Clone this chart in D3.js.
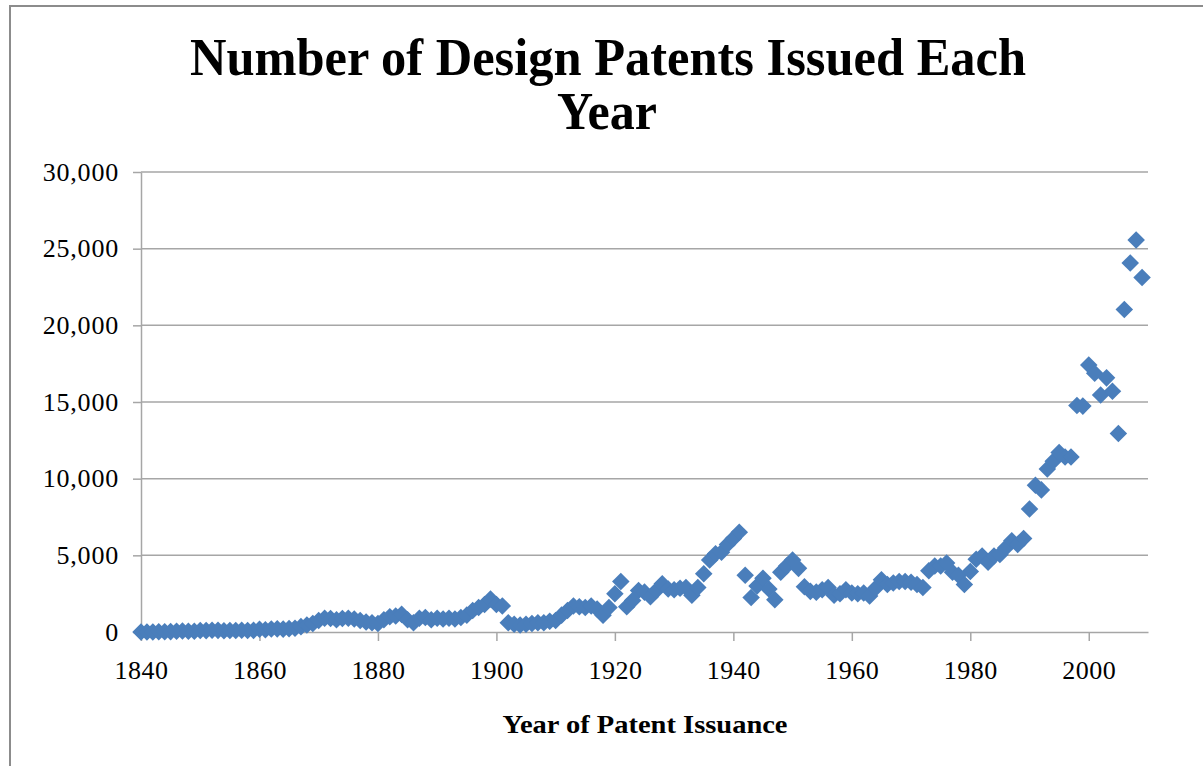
<!DOCTYPE html>
<html>
<head>
<meta charset="utf-8">
<script src="https://cdn.jsdelivr.net/npm/d3@7"></script>
<style>
  html, body { margin: 0; padding: 0; background: #fff; }
  svg { display: block; }
</style>
</head>
<body>
<svg id="chart" width="1203" height="766"></svg>
<script>
// ---- data ----
const years = d3.range(1840, 2010);
const patents = [
  0, 0, 0, 14, 12, 25, 50, 60, 46, 49,                 // 1840-1849
  91, 90, 109, 107, 84, 93, 103, 112, 102, 107,        // 1850-1859
  183, 142, 195, 204, 188, 220, 250, 350, 450, 550,    // 1860-1869
  750, 900, 880, 800, 880, 900, 850, 750, 650, 600,    // 1870-1879
  550, 800, 1000, 1050, 1150, 800, 600, 900, 950, 800, // 1880-1889
  900, 850, 900, 850, 950, 1100, 1400, 1600, 1800, 2150, // 1890-1899
  1800, 1700, 600, 500, 450, 500, 550, 600, 600, 700,  // 1900-1909
  750, 1100, 1400, 1700, 1650, 1600, 1700, 1500, 1100, 1600, // 1910-1919
  2500, 3300, 1650, 2050, 2700, 2600, 2300, 2700, 3150, 2800, // 1920-1929
  2750, 2850, 2900, 2400, 2900, 3800, 4700, 5100, 5200, 5700, // 1930-1939
  6100, 6500, 3700, 2250, 3000, 3500, 2800, 2100, 3900, 4300, // 1940-1949
  4700, 4150, 2950, 2650, 2600, 2750, 2900, 2400, 2500, 2750, // 1950-1959
  2550, 2500, 2550, 2350, 2850, 3400, 3100, 3200, 3300, 3300, // 1960-1969
  3250, 3100, 2900, 4000, 4300, 4300, 4500, 3900, 3700, 3100, // 1970-1979
  3950, 4750, 4950, 4550, 4950, 5050, 5500, 5950, 5700, 6100, // 1980-1989
  8024, 9569, 9269, 10630, 11138, 11712, 11410, 11414, 14766, 14732, // 1990-1999
  17413, 16871, 15451, 16574, 15695, 12951, 21034, 24063, 25565, 23116 // 2000-2009
];
const xTicks = [1840, 1860, 1880, 1900, 1920, 1940, 1960, 1980, 2000];
const yTicks = [0, 5000, 10000, 15000, 20000, 25000, 30000];
const titleLines = ["Number of Design Patents Issued Each", "Year"];
const xTitle = "Year of Patent Issuance";

// ---- chart ----
const svg = d3.select("#chart");
const serif = "'Liberation Serif', 'DejaVu Serif', serif";
const grid = "#a6a6a6";

// outer chart border
svg.append("path")
  .attr("d", "M10,780 L10,6 L1215,6")
  .attr("fill", "none").attr("stroke", "#8c8c8c").attr("stroke-width", 2);

const x = d3.scaleLinear().domain([1840, 2010]).range([141, 1148]);
const y = d3.scaleLinear().domain([0, 30000]).range([632, 172]);

// gridlines
svg.append("g").selectAll("line")
  .data(yTicks.filter(d => d > 0))
  .join("line")
  .attr("x1", x(1840)).attr("x2", x(2010))
  .attr("y1", d => y(d)).attr("y2", d => y(d))
  .attr("stroke", grid).attr("stroke-width", 1.5);

// y axis
const yAxis = svg.append("g")
  .attr("transform", `translate(${x(1840)},0)`)
  .call(d3.axisLeft(y).tickValues(yTicks).tickFormat(d3.format(","))
    .tickSize(8).tickSizeOuter(0).tickPadding(14));
yAxis.select(".domain").attr("stroke", grid).attr("stroke-width", 1.5);
yAxis.selectAll(".tick line").attr("stroke", grid).attr("stroke-width", 1.5);
yAxis.selectAll("text")
  .attr("font-family", serif).attr("font-size", 26).attr("fill", "#000")
  .attr("letter-spacing", 0.8);

// x axis
const xAxis = svg.append("g")
  .attr("transform", `translate(0,${y(0)})`)
  .call(d3.axisBottom(x).tickValues(xTicks).tickFormat(d3.format("d"))
    .tickSize(9).tickSizeOuter(0).tickPadding(20));
xAxis.select(".domain").attr("stroke", grid).attr("stroke-width", 1.5);
xAxis.selectAll(".tick line").attr("stroke", grid).attr("stroke-width", 1.5);
xAxis.selectAll("text")
  .attr("font-family", serif).attr("font-size", 26).attr("fill", "#000")
  .attr("letter-spacing", 0.5);

// points
svg.append("g").selectAll("rect")
  .data(years.map((yr, i) => ({ year: yr, value: patents[i] })))
  .join("rect")
  .attr("x", -6.2).attr("y", -6.2).attr("width", 12.4).attr("height", 12.4)
  .attr("transform", d => `translate(${x(d.year)},${y(d.value)}) rotate(45)`)
  .attr("fill", "#4a7ebb");

// title
svg.append("text")
  .attr("x", 608).attr("y", 75)
  .attr("text-anchor", "middle")
  .attr("font-family", serif).attr("font-weight", "bold").attr("font-size", 52)
  .attr("textLength", 836).attr("lengthAdjust", "spacingAndGlyphs")
  .text(titleLines[0]);
svg.append("text")
  .attr("x", 607).attr("y", 129)
  .attr("text-anchor", "middle")
  .attr("font-family", serif).attr("font-weight", "bold").attr("font-size", 52)
  .attr("textLength", 100).attr("lengthAdjust", "spacingAndGlyphs")
  .text(titleLines[1]);

// x axis title
svg.append("text")
  .attr("x", 645).attr("y", 733)
  .attr("text-anchor", "middle")
  .attr("font-family", serif).attr("font-weight", "bold").attr("font-size", 26)
  .attr("textLength", 285).attr("lengthAdjust", "spacingAndGlyphs")
  .text(xTitle);
</script>
</body>
</html>
